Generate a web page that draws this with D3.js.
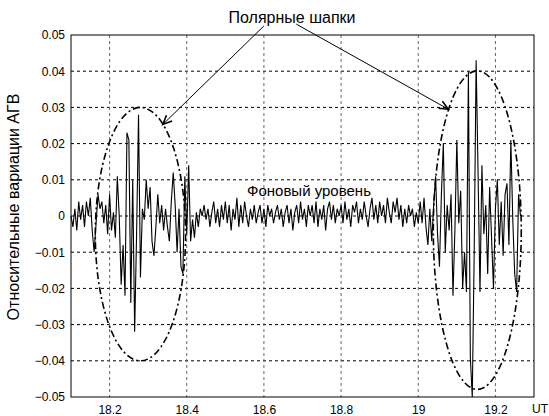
<!DOCTYPE html>
<html>
<head>
<meta charset="utf-8">
<script src="https://cdn.jsdelivr.net/npm/d3@7"></script>
<style>
  body { margin: 0; background: #fff; }
  text { font-family: Arial, "Liberation Sans", sans-serif; }
</style>
</head>
<body>
<div id="chart"></div>
<script>
// time base of the record (UT, hours)
const t0 = 18.1
const dt = 0.005

// relative AGW variations, one value per dt
const values = [
  // 18.100 - 18.165
  0.000, -0.003, 0.002, -0.004, 0.004, -0.001, 0.003, -0.003, 0.004, 0.000, 0.005, -0.004, -0.010, -0.002,
  // 18.170 - 18.415  (first polar cap)
  0.006, 0.002, 0.004, -0.002, 0.003, -0.005, 0.006, -0.004, 0.001, -0.006,
  0.011, 0.000, -0.019, -0.008, -0.022, 0.023, 0.021, -0.024, 0.010, -0.032,
  -0.005, 0.028, -0.017, 0.002, -0.001, 0.010, 0.002, 0.008, -0.007, -0.011,
  -0.003, 0.006, -0.002, 0.003, -0.004, 0.002, -0.003, -0.007, 0.004, 0.012,
  0.003, -0.010, 0.002, -0.014, -0.016, 0.011, -0.005, 0.014, -0.007, -0.001,
  // 18.420 - 19.000  (background)
  -0.006, 0.001, -0.003, 0.002, 0.000, 0.003, -0.001, 0.002, -0.003, 0.001,
  0.004, -0.002, 0.002, -0.003, 0.003, -0.001, 0.004, -0.002, 0.003, -0.004,
  0.002, -0.001, 0.005, -0.003, 0.003, -0.002, 0.004, 0.000, -0.003, 0.002,
  -0.001, 0.003, -0.002, 0.001, 0.003, -0.002, 0.002, -0.003, 0.003, 0.000,
  0.002, -0.002, 0.001, 0.003, -0.001, 0.002, -0.003, 0.001, 0.003, -0.002,
  0.002, -0.004, 0.001, 0.003, -0.002, 0.004, -0.001, 0.002, -0.003, 0.003,
  0.000, 0.003, -0.002, 0.004, -0.003, 0.002, -0.001, 0.003, -0.004, 0.002,
  0.004, -0.001, 0.003, -0.002, 0.002, 0.000, 0.003, -0.002, 0.004, -0.001,
  0.002, -0.003, 0.003, 0.001, 0.004, -0.002, 0.002, -0.001, 0.004, 0.000,
  -0.003, 0.002, 0.005, -0.001, 0.003, -0.002, 0.004, 0.000, 0.003, -0.002,
  0.005, 0.001, -0.002, 0.004, 0.001, 0.005, -0.001, 0.003, -0.003, 0.002,
  -0.002, 0.003, 0.000, 0.002, -0.003, 0.001, -0.002,
  // 19.005 - 19.265  (second polar cap)
  0.004, -0.002, 0.005, -0.003, -0.008, 0.002, -0.007, 0.003, 0.011, -0.005,
  -0.014, 0.006, 0.020, -0.010, 0.003, -0.004, 0.006, -0.022, -0.004, 0.021,
  -0.002, 0.007, -0.020, -0.010, -0.021, 0.040, -0.039, -0.050, -0.010, 0.043,
  0.012, -0.021, 0.014, -0.005, 0.003, -0.016, 0.008, -0.006, -0.020, 0.002,
  0.010, -0.008, 0.004, -0.011, 0.006, 0.009, -0.008, 0.021, -0.001, -0.016,
  -0.021, 0.006, 0.000
]

const xTicks = [18.2, 18.4, 18.6, 18.8, 19, 19.2]
const yTicks = [-0.05, -0.04, -0.03, -0.02, -0.01, 0, 0.01, 0.02, 0.03, 0.04, 0.05]

// the two marked regions: centre and half-axes in data units
const caps = [
  { t: 18.28, v: -0.005, rt: 0.117, rv: 0.035 },
  { t: 19.153, v: -0.0039, rt: 0.114, rv: 0.044 }
]

let width = 549, height = 416
let plot = { left: 71, right: 534, top: 35, bottom: 397 }

let svg = d3.select("#chart").append("svg")
  .attr("width", width)
  .attr("height", height)

let x = d3.scaleLinear().domain([18.1, 19.3]).range([plot.left, plot.right])
let y = d3.scaleLinear().domain([-0.05, 0.05]).range([plot.bottom, plot.top])

// grid
svg.append("g").selectAll("line")
  .data(yTicks.slice(1, -1))
  .join("line")
  .attr("x1", plot.left).attr("x2", plot.right)
  .attr("y1", d => y(d)).attr("y2", d => y(d))
  .attr("stroke", "#000")
  .attr("stroke-dasharray", "3,3")

svg.append("g").selectAll("line")
  .data(xTicks)
  .join("line")
  .attr("x1", d => x(d)).attr("x2", d => x(d))
  .attr("y1", plot.top).attr("y2", plot.bottom)
  .attr("stroke", "#666")
  .attr("stroke-dasharray", "3,3")

// axes
let fmt = d => d3.format("")(+d.toFixed(2))
svg.append("g")
  .attr("transform", "translate(0," + plot.bottom + ")")
  .call(d3.axisBottom(x).tickValues(xTicks).tickSize(0).tickPadding(8).tickFormat(fmt))
  .call(g => g.select(".domain").remove())
  .call(g => g.selectAll("text").attr("font-size", 12).attr("font-family", "Arial, sans-serif").attr("fill", "#000"))

svg.append("g")
  .attr("transform", "translate(" + plot.left + ",0)")
  .call(d3.axisLeft(y).tickValues(yTicks).tickSize(0).tickPadding(6).tickFormat(fmt))
  .call(g => g.select(".domain").remove())
  .call(g => g.selectAll("text").attr("font-size", 12).attr("font-family", "Arial, sans-serif").attr("fill", "#000"))

// signal
let line = d3.line()
  .x((d, i) => x(t0 + i * dt))
  .y(d => y(d))

svg.append("path")
  .datum(values)
  .attr("d", line)
  .attr("fill", "none")
  .attr("stroke", "#000")
  .attr("stroke-width", 1.1)

// box
svg.append("rect")
  .attr("x", plot.left).attr("y", plot.top)
  .attr("width", plot.right - plot.left)
  .attr("height", plot.bottom - plot.top)
  .attr("fill", "none")
  .attr("stroke", "#000")

// ellipses round the polar caps
svg.append("g").selectAll("ellipse")
  .data(caps)
  .join("ellipse")
  .attr("cx", d => x(d.t))
  .attr("cy", d => y(d.v))
  .attr("rx", d => x(d.t + d.rt) - x(d.t))
  .attr("ry", d => y(d.v - d.rv) - y(d.v))
  .attr("fill", "none")
  .attr("stroke", "#000")
  .attr("stroke-width", 1.6)
  .attr("stroke-dasharray", "7,3,2,3")

// arrows
svg.append("defs").append("marker")
  .attr("id", "head")
  .attr("viewBox", "-10 -5 12 10")
  .attr("refX", 0).attr("refY", 0)
  .attr("markerWidth", 12).attr("markerHeight", 10)
  .attr("markerUnits", "userSpaceOnUse")
  .attr("orient", "auto")
  .append("path")
  .attr("d", "M-9,-4L0,0L-9,4")
  .attr("fill", "none")
  .attr("stroke", "#000")
  .attr("stroke-width", 1.6)

let arrows = [
  { from: [18.6, 0.0525], to: [18.338, 0.0253] },
  { from: [18.684, 0.0530], to: [19.078, 0.0295] }
]
svg.append("g").selectAll("line")
  .data(arrows)
  .join("line")
  .attr("x1", d => x(d.from[0])).attr("y1", d => y(d.from[1]))
  .attr("x2", d => x(d.to[0])).attr("y2", d => y(d.to[1]))
  .attr("stroke", "#000")
  .attr("stroke-width", 1)
  .attr("marker-end", "url(#head)")

// labels
svg.append("text")
  .attr("x", 292).attr("y", 23)
  .attr("text-anchor", "middle")
  .attr("font-size", 16)
  .text("Полярные шапки")

svg.append("text")
  .attr("x", 309).attr("y", 196)
  .attr("text-anchor", "middle")
  .attr("font-size", 15)
  .text("Фоновый уровень")

svg.append("text")
  .attr("x", 532).attr("y", 413)
  .attr("font-size", 12)
  .text("UT")

svg.append("text")
  .attr("transform", "translate(19,207) rotate(-90)")
  .attr("text-anchor", "middle")
  .attr("font-size", 16)
  .text("Относительные вариации АГВ")
</script>
</body>
</html>
